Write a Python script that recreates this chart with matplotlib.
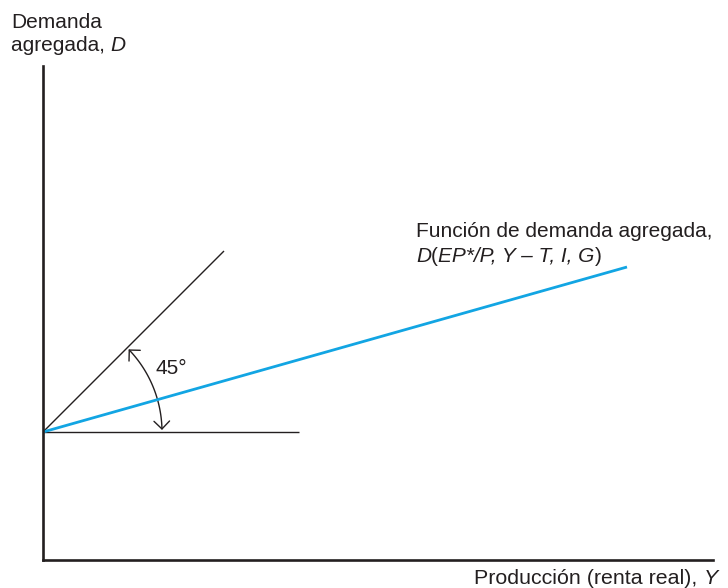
import matplotlib

matplotlib.use("Agg")
import matplotlib.pyplot as plt  # noqa: E402
from matplotlib.patches import FancyArrowPatch  # noqa: E402
from matplotlib.path import Path  # noqa: E402
from matplotlib.transforms import IdentityTransform  # noqa: E402
import numpy as np  # noqa: E402

plt.rcParams["font.family"] = ["Liberation Sans", "DejaVu Sans"]

W, H = 728, 588
INK = "#231f20"
AZUL = "#12a5e3"
FS = 15

# ejes (unidades = pixeles desde el origen del gráfico)
X_MAX, Y_MAX = 670, 494

# función de demanda agregada
da_x = [0, 584]
da_y = [128, 293]
# recta de 45 grados
r45_x = [0, 181]
r45_y = [128, 309]
# horizontal de referencia
hor_x = [0, 256]
hor_y = [128, 128]
# arco del ángulo
arco_radio = 119
arco_ang = [1.0, 44.0]

# textos: (trozo, cursiva)
etiq_y = [[("Demanda", False)], [("agregada, ", False), ("D", True)]]
etiq_x = [("Producción (renta real), ", False), ("Y", True)]
etiq_da = [[("Función de demanda agregada,", False)],
           [("D", True), ("(", False), ("EP*/P, Y – T, I, G", True), (")", False)]]

fig = plt.figure(figsize=(W / 100, H / 100), dpi=100)
ax = fig.add_axes([43 / W, 28 / H, X_MAX / W, Y_MAX / H])
ax.set_xlim(0, X_MAX)
ax.set_ylim(0, Y_MAX)
ax.set_aspect("equal")
for s in ("top", "right"):
    ax.spines[s].set_visible(False)
for s in ("left", "bottom"):
    ax.spines[s].set_linewidth(1.9)
    ax.spines[s].set_color(INK)
ax.set_xticks([])
ax.set_yticks([])

ax.plot(r45_x, r45_y, color=INK, lw=1.0, solid_capstyle="butt")
ax.plot(hor_x, hor_y, color=INK, lw=1.0, solid_capstyle="butt")
ax.plot(da_x, da_y, color=AZUL, lw=2.0, solid_capstyle="butt")

t = np.radians(np.linspace(arco_ang[0], arco_ang[1], 60))
verts = np.column_stack([arco_radio * np.cos(t), hor_y[0] + arco_radio * np.sin(t)])
arco = FancyArrowPatch(path=Path(verts), arrowstyle="<->,head_length=5.6,head_width=5.6",
                       color=INK, lw=1.0, shrinkA=0, shrinkB=0)
ax.add_patch(arco)
ax.text(112, 192, "45°", fontsize=FS, color=INK, ha="left", va="center")

renderer = fig.canvas.get_renderer()


def escribir(runs, x, y_base, derecha=False, fs=FS):
    """Escribe trozos de texto seguidos (x, y_base en pixeles desde arriba)."""
    arts = []
    for txt, it in runs:
        a = fig.text(0, H - y_base, txt, fontsize=fs, color=INK,
                     style="italic" if it else "normal",
                     ha="left", va="baseline", transform=IdentityTransform())
        arts.append(a)
    anchos = [a.get_window_extent(renderer).width for a in arts]
    x0 = x - sum(anchos) if derecha else x
    for a, w in zip(arts, anchos):
        a.set_x(x0)
        x0 += w


escribir(etiq_y[0], 11, 28)
escribir(etiq_y[1], 11, 51)
escribir(etiq_da[0], 416, 237)
escribir(etiq_da[1], 416, 262)
escribir(etiq_x, 718, 584, derecha=True, fs=15.4)

fig.savefig("out.png", dpi=100)
